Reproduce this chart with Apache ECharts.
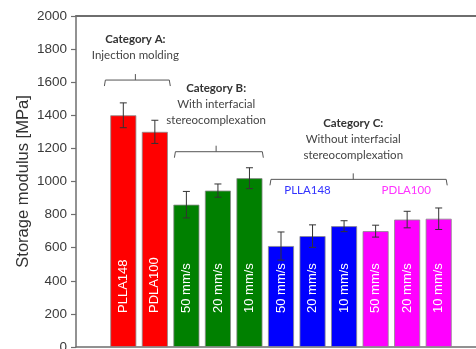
<!DOCTYPE html>
<html><head><meta charset="utf-8">
<script src="https://cdn.jsdelivr.net/npm/echarts@6/dist/echarts.min.js"></script>
<style>html,body{margin:0;padding:0;background:#fff}#c{width:476px;height:349px}</style>
</head><body><div id="c"></div>
<script>
// ---- data ----
const categories = ['', 'A-PLLA148', 'A-PDLA100', 'B-50', 'B-20', 'B-10', 'C-PLLA-50', 'C-PLLA-20', 'C-PLLA-10', 'C-PDLA-50', 'C-PDLA-20', 'C-PDLA-10', ''];
const barLabels = ['', 'PLLA148', 'PDLA100', '50 mm/s', '20 mm/s', '10 mm/s', '50 mm/s', '20 mm/s', '10 mm/s', '50 mm/s', '20 mm/s', '10 mm/s', ''];
const modulus = [null, 1400, 1300, 860, 945, 1020, 610, 670, 730, 700, 770, 775, null];
const modulusErr = [null, 75, 70, 80, 40, 63, 85, 68, 33, 36, 50, 65, null];
const groupOf = [null, 'A', 'A', 'B', 'B', 'B', 'C1', 'C1', 'C1', 'C2', 'C2', 'C2', null];
const yTicks = [0, 200, 400, 600, 800, 1000, 1200, 1400, 1600, 1800, 2000];
// brackets: [startCat, endCat, bracketValue]
const bracketSpan = [[1, 2, 1613], [3, 5, 1180], [6, 11, 1013]];
const bracketTitle = ['Category A:', 'Category B:', 'Category C:'];
const bracketText = [['Injection molding'], ['With interfacial', 'stereocomplexation'], ['Without interfacial', 'stereocomplexation']];
// sub-group labels: [centerCat, value]
const subGroupPos = [[7, 949], [10, 949]];
const subGroupText = ['PLLA148', 'PDLA100'];

// ---- style ----
const groupColor = { A: '#ff0000', B: '#008000', C1: '#0000ff', C2: '#ff00ff' };
const bracketLayout = [
  { left: -0.6, right: 0.49, tick: -3.7, gap: 17 },
  { left: -0.38, right: 0.44, tick: -1.8, gap: 23 },
  { left: -0.35, right: 0.27, tick: -6.6, gap: 16 }
];
const subGroupShift = [-5, -1];
const subGroupColor = ['#3333ff', '#ff33ff'];
const annFont = 'Lato, "Open Sans", sans-serif';

const chart = echarts.init(document.getElementById('c'), null, { renderer: 'canvas' });

const barData = modulus.map((v, i) => v == null ? null : {
  value: v,
  itemStyle: { color: groupColor[groupOf[i]] },
  label: { formatter: barLabels[i] }
});

const errData = modulus.map((v, i) => v == null ? null : [i, v, modulusErr[i]]).filter(d => d);

const option = {
  animation: false,
  grid: { left: 76, top: 16, width: 410, height: 331, containLabel: false, outerBoundsMode: 'none' },
  xAxis: [{
    type: 'category', data: categories, boundaryGap: true,
    axisLine: { lineStyle: { color: '#6e6e6e', width: 1.5 } },
    axisTick: { show: false }, axisLabel: { show: false }
  }, {
    type: 'category', data: categories, position: 'top',
    axisLine: { lineStyle: { color: '#6e6e6e', width: 2 } },
    axisTick: { show: false }, axisLabel: { show: false }
  }],
  yAxis: {
    type: 'value', min: 0, max: 2000, interval: 200,
    name: 'Storage modulus [MPa]', nameLocation: 'middle', nameGap: 44, nameMoveOverlap: false,
    nameTextStyle: { fontFamily: 'Liberation Sans, Arial', fontSize: 16.5, color: '#333' },
    axisLine: { show: true, lineStyle: { color: '#6e6e6e', width: 1.5 } },
    axisTick: { show: true, length: 5, lineStyle: { color: '#6e6e6e', width: 1.2 } },
    axisLabel: { fontFamily: 'Liberation Sans, Arial', fontSize: 13.5, color: '#3a3a3a', margin: 9,
      formatter: v => yTicks.indexOf(v) >= 0 ? String(v) : '' },
    splitLine: { show: false }
  },
  series: [{
    type: 'bar', data: barData, barWidth: 26,
    itemStyle: { borderColor: '#8a8a8a', borderWidth: 0.8 },
    label: {
      show: true, position: 'insideBottom', rotate: 90, align: 'left', verticalAlign: 'middle',
      distance: 34, color: '#fff', fontFamily: 'Liberation Sans, Arial', fontSize: 13
    }
  }, {
    type: 'custom', data: errData, encode: { x: 0, y: 1 }, z: 5,
    renderItem: (params, api) => {
      const i = api.value(0), v = api.value(1), e = api.value(2);
      const hi = api.coord([i, v + e]), lo = api.coord([i, v - e]);
      const cw = 3.5;
      const st = { stroke: '#333', lineWidth: 1 };
      return { type: 'group', children: [
        { type: 'line', shape: { x1: hi[0], y1: hi[1], x2: lo[0], y2: lo[1] }, style: st },
        { type: 'line', shape: { x1: hi[0] - cw, y1: hi[1], x2: hi[0] + cw, y2: hi[1] }, style: st },
        { type: 'line', shape: { x1: lo[0] - cw, y1: lo[1], x2: lo[0] + cw, y2: lo[1] }, style: st }
      ] };
    }
  }, {
    type: 'custom', data: bracketSpan, encode: { x: [0, 1], y: 2 }, z: 6, clip: false,
    renderItem: (params, api) => {
      const k = params.dataIndex;
      const s = api.coord([api.value(0), api.value(2)]);
      const e = api.coord([api.value(1), api.value(2)]);
      const band = api.size([1, 0])[0];
      const L = bracketLayout[k];
      const x1 = s[0] + L.left * band, x2 = e[0] + L.right * band, y = s[1];
      const tx = (s[0] + e[0]) / 2 + L.tick;
      const st = { stroke: '#555', lineWidth: 1, fill: null };
      const txt = '{b|' + bracketTitle[k] + '}\n' + bracketText[k].map(t => '{n|' + t + '}').join('\n');
      return { type: 'group', children: [
        { type: 'polyline', shape: { points: [[x1, y + 6], [x1 + 1, y], [x2 - 1, y], [x2, y + 6]] }, style: st },
        { type: 'line', shape: { x1: tx, y1: y, x2: tx, y2: y - 6 }, style: st },
        { type: 'text', x: tx, y: y - L.gap, style: {
          text: txt, align: 'center', verticalAlign: 'bottom',
          rich: {
            b: { fontFamily: annFont, fontWeight: 'bold', fontSize: 11.5, lineHeight: 16, fill: '#333', align: 'center' },
            n: { fontFamily: annFont, fontSize: 11.5, lineHeight: 16, fill: '#444', align: 'center' }
          }
        } }
      ] };
    }
  }, {
    type: 'custom', data: subGroupPos, encode: { x: 0, y: 1 }, z: 6,
    renderItem: (params, api) => {
      const k = params.dataIndex;
      const p = api.coord([api.value(0), api.value(1)]);
      return { type: 'text', x: p[0] + subGroupShift[k], y: p[1], style: {
        text: subGroupText[k], align: 'center', verticalAlign: 'middle',
        fontFamily: annFont, fontSize: 11.5, fill: subGroupColor[k]
      } };
    }
  }]
};
chart.setOption(option);
</script></body></html>
